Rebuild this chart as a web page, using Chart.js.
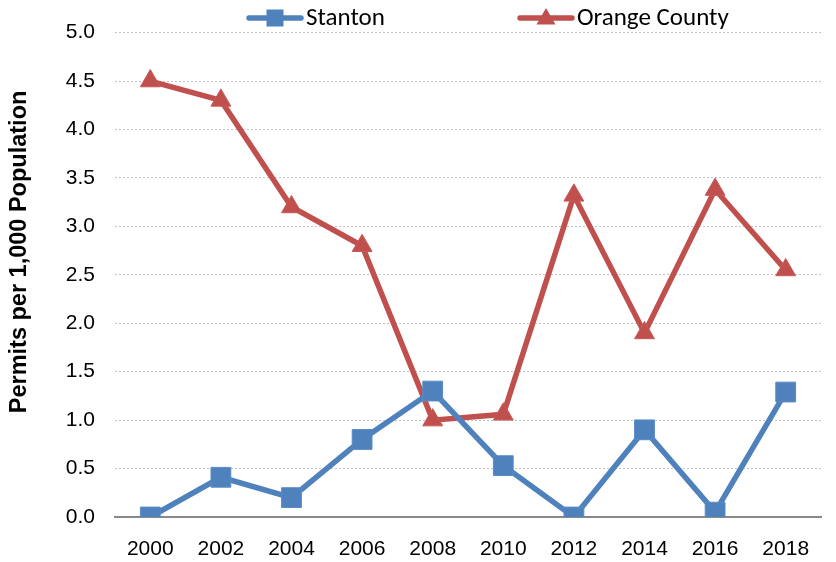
<!DOCTYPE html>
<html>
<head>
<meta charset="utf-8">
<script src="https://cdn.jsdelivr.net/npm/chart.js@4"></script>
<style>
html,body{margin:0;padding:0;background:#fff;}
#wrap{width:836px;height:562px;position:relative;}
</style>
</head>
<body>
<div id="wrap"><canvas id="c" width="836" height="562"></canvas></div>
<script>
const years = ['2000','2002','2004','2006','2008','2010','2012','2014','2016','2018'];
const stanton = [0.0, 0.41, 0.2, 0.8, 1.3, 0.53, 0.0, 0.9, 0.05, 1.29];
const orangeCounty = [4.5, 4.3, 3.2, 2.8, 1.0, 1.06, 3.32, 1.9, 3.38, 2.55];
const seriesNames = ['Stanton', 'Orange County'];
const yTitle = 'Permits per 1,000 Population';

const BLUE = '#4F81BD';
const RED = '#C0504D';
const tickFont = {family: "'Liberation Sans', Arial, sans-serif", size: 21};

const legendPlugin = {
  id: 'excelLegend',
  afterDraw(chart) {
    const ctx = chart.ctx;
    const items = [
      {x0: 247, color: BLUE, style: 'rect', label: seriesNames[0]},
      {x0: 518, color: RED, style: 'triangle', label: seriesNames[1]}
    ];
    const y = 18;
    ctx.save();
    items.forEach(it => {
      ctx.strokeStyle = it.color;
      ctx.lineWidth = 5.5;
      ctx.lineCap = 'round';
      ctx.beginPath();
      ctx.moveTo(it.x0 + 2, y);
      ctx.lineTo(it.x0 + 54, y);
      ctx.stroke();
      ctx.fillStyle = it.color;
      ctx.beginPath();
      if (it.style === 'rect') {
        ctx.rect(it.x0 + 28 - 8.5, y - 8.5, 17, 17);
      } else {
        const r = 11, cx = it.x0 + 28, cy = y + 1;
        ctx.moveTo(cx, cy - r);
        ctx.lineTo(cx + r * Math.sqrt(3) / 2, cy + r / 2);
        ctx.lineTo(cx - r * Math.sqrt(3) / 2, cy + r / 2);
        ctx.closePath();
      }
      ctx.fill();
      ctx.fillStyle = '#000';
      ctx.font = "25px Carlito, Lato, sans-serif";
      ctx.textBaseline = 'middle';
      ctx.textAlign = 'left';
      ctx.fillText(it.label, it.x0 + 59, y + 1);
    });
    ctx.restore();
  }
};

new Chart(document.getElementById('c'), {
  type: 'line',
  data: {
    labels: years,
    datasets: [
      {
        label: seriesNames[0], data: stanton,
        borderColor: BLUE, backgroundColor: BLUE, borderWidth: 5.5,
        pointStyle: 'rect', pointRadius: 14, pointBorderWidth: 1, pointBorderColor: '#5a8cc6',
        tension: 0
      },
      {
        label: seriesNames[1], data: orangeCounty,
        borderColor: RED, backgroundColor: RED, borderWidth: 5.5,
        pointStyle: 'triangle', pointRadius: 11.5, pointBorderWidth: 1, pointBorderColor: '#c85a57',
        tension: 0
      }
    ]
  },
  options: {
    responsive: false,
    animation: false,
    layout: {padding: {top: 32, right: 0, bottom: 0, left: 0}},
    plugins: {legend: {display: false}, tooltip: {enabled: false}},
    scales: {
      x: {
        offset: true,
        grid: {display: false, drawTicks: false},
        border: {display: true, color: '#888', width: 2},
        ticks: {font: tickFont, color: '#000', padding: 20, maxRotation: 0},
        afterFit(s) { s.height = 45; }
      },
      y: {
        min: 0, max: 5,
        grid: {color: '#c4c4c4', lineWidth: 1, drawTicks: false},
        border: {display: false, dash: [2, 2]},
        ticks: {stepSize: 0.5, font: tickFont, color: '#000', padding: 20,
          callback: v => Number(v).toFixed(1)},
        title: {display: true, text: '\u00a0'.repeat(7) + yTitle, color: '#000',
          font: {family: tickFont.family, size: 23.5, weight: 'bold'}, padding: {top: 5, bottom: 0}},
        afterFit(s) { s.width = 115; }
      }
    }
  },
  plugins: [legendPlugin]
});
</script>
</body>
</html>
